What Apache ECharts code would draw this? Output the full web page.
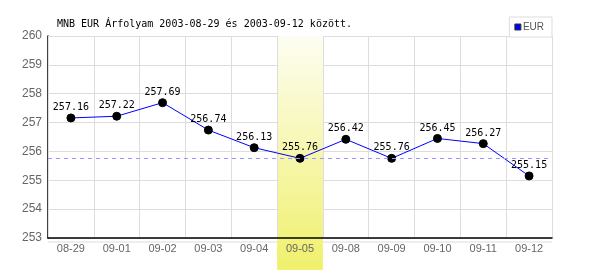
<!DOCTYPE html>
<html><head><meta charset="utf-8">
<script src="https://cdn.jsdelivr.net/npm/echarts@6/dist/echarts.min.js"></script>
<style>html,body{margin:0;padding:0;background:#fff}#c{width:600px;height:270px}</style>
</head><body><div id="c"></div>
<script>
var titleText = 'MNB EUR Árfolyam 2003-08-29 és 2003-09-12 között.';
var categories = ['08-29','09-01','09-02','09-03','09-04','09-05','09-08','09-09','09-10','09-11','09-12'];
var eurValues = [257.16,257.22,257.69,256.74,256.13,255.76,256.42,255.76,256.45,256.27,255.15];
var refLine = 255.75;
var highlightCat = '09-05';
var yMin = 253, yMax = 260, yStep = 1;

var chart = echarts.init(document.getElementById('c'));
var mono = 'DejaVu Sans Mono';
chart.setOption({
  animation: false,
  backgroundColor: '#fff',
  title: { text: titleText, left: 52, top: 14, textStyle: { fontFamily: mono, fontSize: 10, fontWeight: 'normal', color: '#000' } },
  legend: { data: [{ name: 'EUR', itemStyle: { color: '#0000ff', borderColor: '#333', borderWidth: 1 } }],
    right: 48, top: 17, orient: 'vertical', backgroundColor: '#fff', borderColor: '#ddd', borderWidth: 1, padding: [5, 8, 5, 5], itemWidth: 6, itemHeight: 6, itemGap: 2,
    textStyle: { fontFamily: 'Liberation Sans', fontSize: 10, color: '#555', padding: [0,0,0,-3] }, icon: 'rect', z: 5 },
  grid: { left: 48, right: 48, top: 36, bottom: 32 },
  xAxis: { type: 'category', data: categories, boundaryGap: true, z: 2,
    axisLine: { lineStyle: { color: '#000', width: 1.5 } }, axisTick: { show: false },
    axisLabel: { color: '#666', fontFamily: 'Liberation Sans', fontSize: 11, margin: 5 },
    splitLine: { show: true, lineStyle: { color: '#ddd', width: 1 } } },
  yAxis: { type: 'value', min: yMin, max: yMax, interval: yStep, z: 0,
    axisLine: { show: true, lineStyle: { color: '#000', width: 1.5 } }, axisTick: { show: false },
    axisLabel: { color: '#666', fontFamily: 'Liberation Sans', fontSize: 12, margin: 6 },
    splitLine: { lineStyle: { color: '#ddd', width: 1 } } },
  series: [
    { name: 'ref', type: 'line', data: [], z: 0, silent: true,
      markLine: { symbol: 'none', silent: true, label: { show: false },
        lineStyle: { color: '#9999ff', type: [4, 4], width: 1 }, data: [{ yAxis: refLine }] } },
    { name: 'EUR', type: 'line', data: eurValues, z: 3, color: '#0000ff',
      lineStyle: { color: '#0000ff', width: 1 },
      symbol: 'circle', symbolSize: 8, itemStyle: { color: '#000', borderColor: '#000' },
      label: { show: true, position: 'top', distance: 1, color: '#000', fontFamily: mono, fontSize: 10,
        formatter: function (p) { return p.value.toFixed(2); } } }
  ]
});

function addGraphics() {
  var idx = categories.indexOf(highlightCat);
  var c0 = chart.convertToPixel({ xAxisIndex: 0 }, categories[idx]);
  var c1 = chart.convertToPixel({ xAxisIndex: 0 }, categories[idx === 0 ? 1 : idx - 1]);
  var w = Math.abs(c0 - c1);
  var yTop = chart.convertToPixel({ yAxisIndex: 0 }, yMax);
  var yBot = chart.convertToPixel({ yAxisIndex: 0 }, yMin);
  var xL = chart.convertToPixel({ xAxisIndex: 0 }, categories[0]) - w / 2;
  var xR = chart.convertToPixel({ xAxisIndex: 0 }, categories[categories.length - 1]) + w / 2;
  chart.setOption({ graphic: [
    { type: 'line', z: 0, shape: { x1: xL, y1: yBot + 4, x2: xR, y2: yBot + 4 }, style: { stroke: '#ddd', lineWidth: 1 } },
    { type: 'rect', z: 1, shape: { x: c0 - w / 2, y: yTop, width: w, height: 270 - yTop },
      style: { fill: new echarts.graphic.LinearGradient(0, 0, 0, 1, [{ offset: 0, color: '#fdfdf2' }, { offset: 1, color: '#f0f06c' }]) } }
  ] });
}
addGraphics();
</script></body></html>
